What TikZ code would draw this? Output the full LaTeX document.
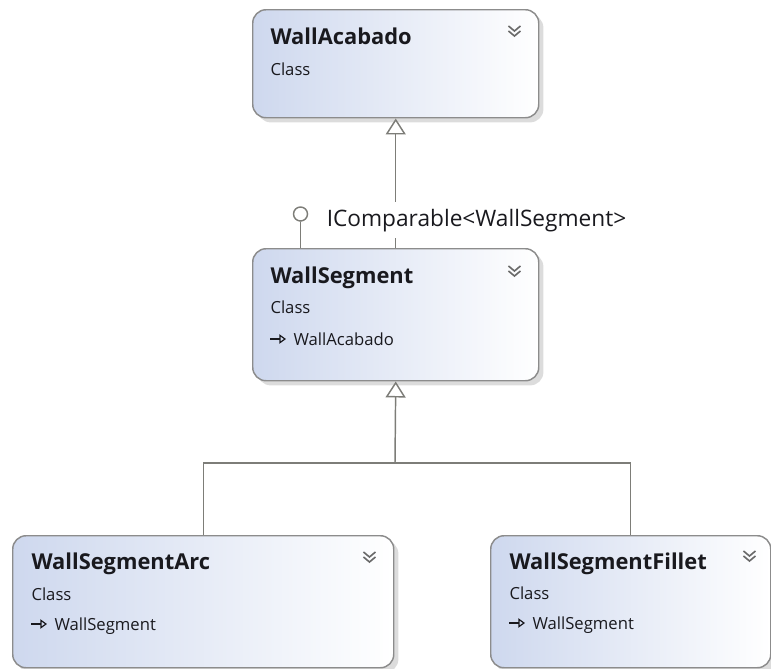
\documentclass[tikz,border=0pt]{standalone}
\usepackage{fontspec}
\setmainfont{Open Sans}
\usetikzlibrary{arrows.meta,shadows,calc}

\definecolor{boxblue}{RGB}{206,216,238}
\definecolor{boxgray}{RGB}{140,140,140}
\definecolor{linegray}{RGB}{125,125,120}
\definecolor{chevgray}{RGB}{105,105,105}
\definecolor{textdark}{RGB}{25,25,30}

\tikzset{every picture/.style={line width=0.75pt}}
\tikzset{
  classbox/.style={draw=boxgray, line width=1.1pt, rounded corners=10pt, left color=boxblue, right color=white, anchor=north west, inner sep=0pt, minimum height=99pt, drop shadow={shadow xshift=3.5pt, shadow yshift=-3.5pt, fill=black!30, opacity=0.45}},
  title/.style={anchor=base west, inner sep=0pt, font=\fontsize{16.4}{18}\selectfont\bfseries, text=textdark},
  kind/.style={anchor=base west, inner sep=0pt, font=\fontsize{12.5}{14}\selectfont, text=textdark},
  conn/.style={draw=linegray, line width=1.1pt},
  inherit/.style={conn, -{Triangle[open, length=12pt, width=15pt, fill=white]}},
  icon/.style={draw=textdark, line width=0.9pt, -{Triangle[open, length=5pt, width=7pt]}},
  chevron/.pic={\draw[chevgray, line width=1.2pt] (-6,6) -- (0,1) -- (6,6) (-6,1) -- (0,-4) -- (6,1);}
}

\begin{document}
\begin{tikzpicture}[x=0.75pt,y=0.75pt,yscale=-1,xscale=1]
\useasboundingbox (0,0) rectangle (771,668);

%Shape: Class boxes
\node[classbox, minimum width=214.5pt, minimum height=81pt] (acabado) at (252,9) {};
\node[classbox, minimum width=214.5pt] (segment) at (252,248) {};
\node[classbox, minimum width=285.75pt] (segarc) at (12,535) {};
\node[classbox, minimum width=210pt] (segfillet) at (490,535) {};

%Shape: Chevrons
\pic at ($(acabado.north east)+(-25,23)$) {chevron};
\pic at ($(segment.north east)+(-25,24)$) {chevron};
\pic at ($(segarc.north east)+(-25,23)$) {chevron};
\pic at ($(segfillet.north east)+(-22,22)$) {chevron};

% Text Node
\node[title] (acabadoT) at ($(acabado.north west)+(18,35)$) {WallAcabado};
\node[kind] (acabadoK) at ($(acabado.north west)+(18,66)$) {Class};
\node[title] (segmentT) at ($(segment.north west)+(18,35)$) {WallSegment};
\node[kind] (segmentK) at ($(segment.north west)+(18,65)$) {Class};
\node[kind] (segmentB) at ($(segment.north west)+(41,97)$) {WallAcabado};
\node[title] (segarcT) at ($(segarc.north west)+(19,34)$) {WallSegmentArc};
\node[kind] (segarcK) at ($(segarc.north west)+(19,65)$) {Class};
\node[kind] (segarcB) at ($(segarc.north west)+(42,95)$) {WallSegment};
\node[title] (segfilletT) at ($(segfillet.north west)+(19,34)$) {WallSegmentFillet};
\node[kind] (segfilletK) at ($(segfillet.north west)+(19,64)$) {Class};
\node[kind] (segfilletB) at ($(segfillet.north west)+(42,94)$) {WallSegment};

%Straight Lines: base class icons
\draw[icon] ($(segment.north west)+(18,91)$) -- ++(16,0);
\draw[icon] ($(segarc.north west)+(19,89)$) -- ++(16,0);
\draw[icon] ($(segfillet.north west)+(19,88)$) -- ++(16,0);

%Straight Lines: inheritance
\draw[inherit] (segment.north) -- (acabado.south);
\coordinate (fork) at (395,463);
\draw[conn] (segarc.north) |- (fork) -| (segfillet.north);
\draw[inherit] (fork) -- (segment.south);

%Shape: Interface lollipop
\node[circle, draw=linegray, line width=1.1pt, fill=white, minimum size=10.5pt, inner sep=0pt] (lolli) at (300.5,214) {};
\draw[conn] (lolli) -- (lolli |- segment.north);
% Text Node
\node[anchor=base west, fill=white, inner xsep=1pt, inner ysep=5pt, font=\fontsize{17}{19}\selectfont, text=textdark] (iface) at (325,226) {IComparable<WallSegment>};

\end{tikzpicture}
\end{document}
